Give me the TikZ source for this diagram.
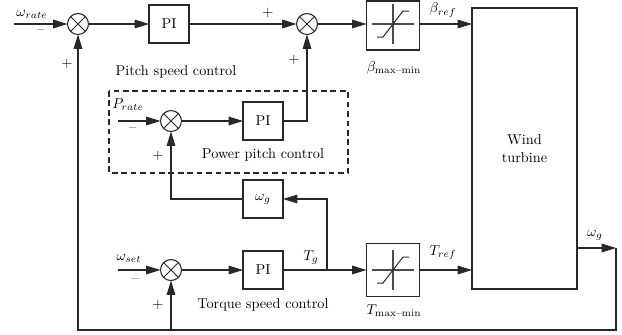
\documentclass[tikz,border=0pt]{standalone}
\usepackage{amsmath}
\usetikzlibrary{arrows.meta,calc}
\definecolor{ln}{RGB}{40,40,40}
\tikzset{
  x=0.7pt, y=-0.7pt,
  every node/.style={inner sep=0pt, outer sep=0pt},
  arr/.style={draw=ln, line width=0.75pt, -{Triangle[length=10pt,width=6pt]}},
  sumj/.style={circle, draw=ln, line width=0.75pt, minimum size=14.7pt,
    path picture={\draw[ln, line width=0.7pt] (path picture bounding box.north west) -- (path picture bounding box.south east)
      (path picture bounding box.north east) -- (path picture bounding box.south west);}},
  blk/.style={rectangle, draw=ln, line width=0.75pt, minimum width=28pt, minimum height=26.6pt},
  satblk/.style={rectangle, draw=ln, line width=0.75pt, minimum width=37.1pt, minimum height=37.1pt},
  lbl/.style={font=\normalsize},
  sgn/.style={font=\normalsize},
}
\newcommand\satsym[1]{%
  \draw[gray!60!black, line width=1pt] ($(#1)+(-21,0)$) -- ($(#1)+(21,0)$);
  \draw[gray!60!black, line width=1pt] ($(#1)+(0,-20)$) -- ($(#1)+(0,20)$);
  \draw[ln, line width=0.7pt] ($(#1)+(-16,13)$) -- ($(#1)+(-10,13)$) -- ($(#1)+(10,-13)$) -- ($(#1)+(16,-13)$);}
\begin{document}
\begin{tikzpicture}
\useasboundingbox (0,0) rectangle (622,334);
% top row
\coordinate (in1) at (14,24);
\node[sumj] (s1) at (78,24) {};
\node[blk] (pi1) at (169,24) {PI};
\node[sumj] (s2) at (307,24) {};
\node[satblk, minimum height=34.3pt] (bs) at (393,25.5) {};
\satsym{393,24}
\node[rectangle, draw=ln, line width=0.75pt, minimum width=73.5pt, minimum height=196.7pt, align=center] (wt) at (524.5,148.5) {Wind\\[1pt]turbine};
% power pitch
\coordinate (in2) at (118,121);
\node[sumj] (s4) at (171,121) {};
\node[blk] (pi2) at (263,121) {PI};
\node[blk] (wg) at (263,199) {$\omega_g$};
% torque row
\coordinate (in3) at (118,270);
\node[sumj] (s3) at (171,270) {};
\node[blk] (pi3) at (263,270) {PI};
\node[satblk] (ts) at (393,270) {};
\satsym{ts}
\coordinate (tb) at (327,270);
% output / feedback
\coordinate (out) at (616,248);
\coordinate (fbr) at (616,330);
\coordinate (fbl) at (78,330);
\coordinate (fbm) at (171,330);
% connectors
\draw[arr] (in1) -- (s1);
\draw[arr] (s1) -- (pi1);
\draw[arr] (pi1) -- (s2);
\draw[arr] (s2.east) -- (s2.east -| bs.west);
\draw[arr] (s2 -| bs.east) -- (s2 -| wt.west);
\draw[arr] (in2) -- (s4);
\draw[arr] (s4) -- (pi2);
\draw[arr] (pi2.east) -| (s2.south);
\draw[arr] (in3) -- (s3);
\draw[arr] (s3) -- (pi3);
\draw[arr] (pi3) -- (ts);
\draw[arr] (ts) -- (ts -| wt.west);
\draw[arr] (tb) |- (wg.east);
\draw[arr] (wg.west) -| (s4.south);
\draw[arr] (out -| wt.east) -- (out);
\draw[arr] (out) -- (fbr) -- (fbl) -- (s1.south);
\draw[arr] (fbm) -- (s3.south);
% dashed frame
\draw[ln, line width=0.75pt, dash pattern=on 4pt off 2.6pt] (109,91) rectangle (348,173);
% labels
\node[lbl] (lwr) at (32,14) {$\omega_{rate}$};
\node[sgn] (m1) at (41,32) {\textendash};
\node[sgn] (p1) at (67,64) {+};
\node[sgn] (p2) at (268,13) {+};
\node[sgn] (p3) at (294,60) {+};
\node[lbl] (tps) at (176,72) {Pitch speed control};
\node[lbl] (lbr) at (443,10) {$\beta_{ref}$};
\node[lbl] (lbm) at (394,68) {$\beta_{\text{max--min}}$};
\node[lbl] (lpr) at (128,105) {$P_{rate}$};
\node[sgn] (m2) at (133,130) {\textendash};
\node[sgn] (p4) at (158,156) {+};
\node[lbl] (tpp) at (263,155) {Power pitch control};
\node[lbl] (lws) at (129,258) {$\omega_{set}$};
\node[sgn] (m3) at (135,281) {\textendash};
\node[sgn] (p5) at (158,305) {+};
\node[lbl] (tts) at (263,305) {Torque speed control};
\node[lbl] (ltg) at (311,258) {$T_g$};
\node[lbl] (ltr) at (443,253) {$T_{ref}$};
\node[lbl] (ltm) at (394,311) {$T_{\text{max--min}}$};
\node[lbl] (lwg) at (595,235) {$\omega_g$};
\end{tikzpicture}
\end{document}
